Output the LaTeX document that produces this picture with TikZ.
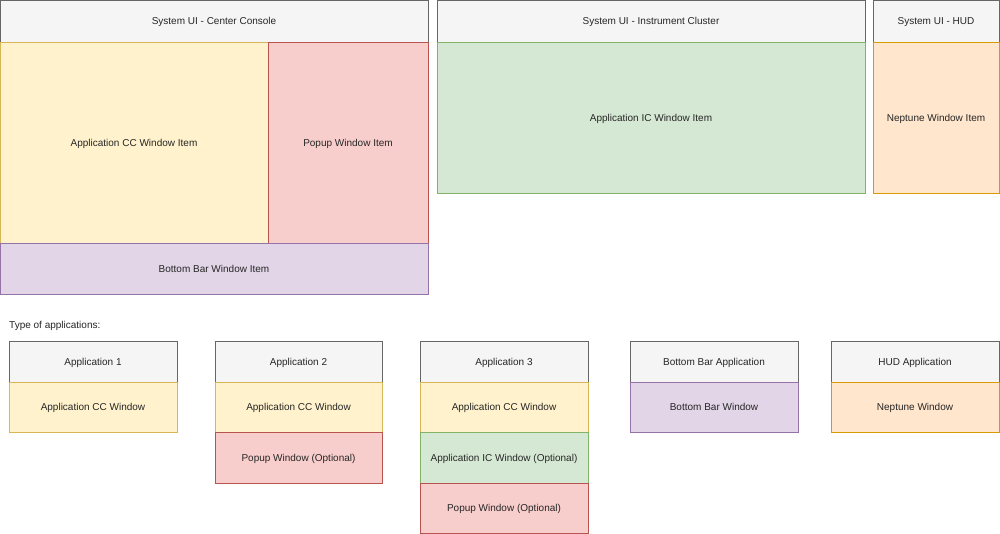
\documentclass[tikz,border=0pt]{standalone}
\usepackage{fontspec}
\setmainfont{Liberation Sans}
\definecolor{grayfill}{HTML}{F5F5F5}
\definecolor{grayline}{HTML}{666666}
\definecolor{yelfill}{HTML}{FFF2CC}
\definecolor{yelline}{HTML}{D6B656}
\definecolor{redfill}{HTML}{F8CECC}
\definecolor{redline}{HTML}{B85450}
\definecolor{grnfill}{HTML}{D5E8D4}
\definecolor{grnline}{HTML}{82B366}
\definecolor{purfill}{HTML}{E1D5E7}
\definecolor{purline}{HTML}{9673A6}
\definecolor{orafill}{HTML}{FFE6CC}
\definecolor{oraline}{HTML}{D79B00}
\tikzset{
	box/.style={rectangle, anchor=north west, line width=0.8pt, inner sep=0pt, outer sep=0pt, text depth=0pt, font=\fontsize{10}{12}\selectfont, text=black!85},
	headbox/.style={box, fill=grayfill, draw=grayline},
	ccbox/.style={box, fill=yelfill, draw=yelline},
	popbox/.style={box, fill=redfill, draw=redline},
	icbox/.style={box, fill=grnfill, draw=grnline},
	barbox/.style={box, fill=purfill, draw=purline},
	hudbox/.style={box, fill=orafill, draw=oraline}
}
\begin{document}
\begin{tikzpicture}[x=1pt,y=-1pt]
		\useasboundingbox[fill=white] (0,0) rectangle (1000,534);
		
		%center console
		\node[headbox, minimum width=428, minimum height=42](cchead) at (0,0) {System UI - Center Console};
		\node[ccbox, minimum width=268, minimum height=201](ccitem) at (0,42) {Application CC Window Item};
		\node[popbox, minimum width=160, minimum height=201](popitem) at (268,42) {Popup Window Item};
		\node[barbox, minimum width=428, minimum height=51](baritem) at (0,243) {Bottom Bar Window Item};
		%instrument cluster
		\node[headbox, minimum width=428, minimum height=42](ichead) at (437,0) {System UI - Instrument Cluster};
		\node[icbox, minimum width=428, minimum height=151](icitem) at (437,42) {Application IC Window Item};
		%hud
		\node[headbox, minimum width=126, minimum height=42](hudhead) at (873,0) {System UI - HUD};
		\node[hudbox, minimum width=126, minimum height=151](huditem) at (873,42) {Neptune Window Item};
		
		%labels
		\node[anchor=west, inner sep=0pt, text depth=0pt, font=\fontsize{10}{12}\selectfont, text=black!85](typelabel) at (9,325) {Type of applications:};
		
		%application 1
		\node[headbox, minimum width=168, minimum height=41](appone) at (9,341) {Application 1};
		\node[ccbox, minimum width=168, minimum height=50](appone-cc) at (9,382) {Application CC Window};
		%application 2
		\node[headbox, minimum width=167, minimum height=41](apptwo) at (215,341) {Application 2};
		\node[ccbox, minimum width=167, minimum height=50](apptwo-cc) at (215,382) {Application CC Window};
		\node[popbox, minimum width=167, minimum height=51](apptwo-pop) at (215,432) {Popup Window (Optional)};
		%application 3
		\node[headbox, minimum width=168, minimum height=41](appthree) at (420,341) {Application 3};
		\node[ccbox, minimum width=168, minimum height=50](appthree-cc) at (420,382) {Application CC Window};
		\node[icbox, minimum width=168, minimum height=51](appthree-ic) at (420,432) {Application IC Window (Optional)};
		\node[popbox, minimum width=168, minimum height=50](appthree-pop) at (420,483) {Popup Window (Optional)};
		%bottom bar application
		\node[headbox, minimum width=168, minimum height=41](barapp) at (630,341) {Bottom Bar Application};
		\node[barbox, minimum width=168, minimum height=50](barapp-win) at (630,382) {Bottom Bar Window};
		%hud application
		\node[headbox, minimum width=168, minimum height=41](hudapp) at (831,341) {HUD Application};
		\node[hudbox, minimum width=168, minimum height=50](hudapp-win) at (831,382) {Neptune Window};
\end{tikzpicture}
\end{document}
